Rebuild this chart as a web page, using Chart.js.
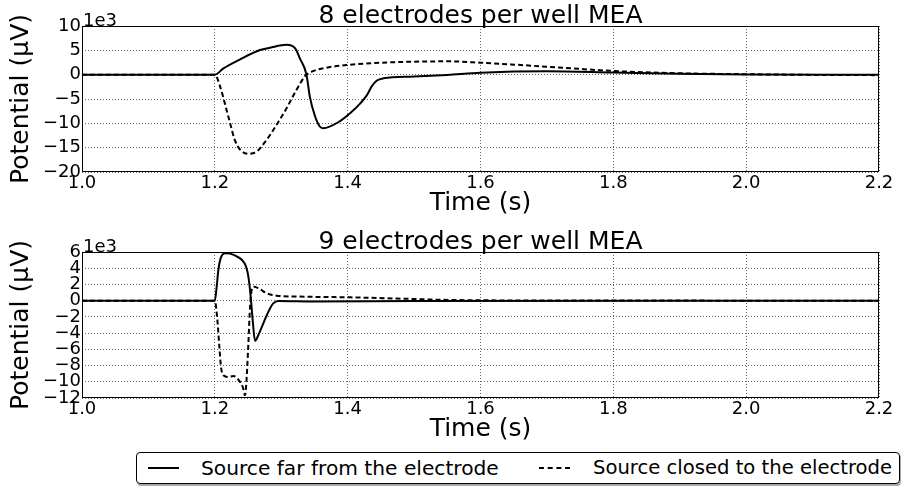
<!DOCTYPE html>
<html>
<head>
<meta charset="utf-8">
<script src="https://cdn.jsdelivr.net/npm/chart.js@4.4.1/dist/chart.umd.min.js"></script>
<style>
  html, body { margin: 0; padding: 0; background: #fff; }
  #wrap { position: relative; width: 904px; height: 486px; overflow: hidden; font-family: "DejaVu Sans", sans-serif; }
  #wrap canvas { position: absolute; left: 0; }
  #legend { position: absolute; left: 136px; top: 452px; width: 762px; height: 30px;
            border: 1px solid #000; border-radius: 4px; box-shadow: 1px 2px 0 rgba(0,0,0,0.35); }
  .lg-text { position: absolute; top: 456px; font-size: 20px; line-height: 24px; color: #000; white-space: nowrap; }
</style>
</head>
<body>
<div id="wrap">
  <canvas id="top" width="904" height="220" style="top:0"></canvas>
  <canvas id="bottom" width="904" height="220" style="top:226px"></canvas>
  <div id="legend"></div>
  <div style="position:absolute;left:148px;top:467px;width:31px;height:2px;background:#000"></div>
  <div class="lg-text" style="left:201px;font-size:20.2px">Source far from the electrode</div>
  <svg style="position:absolute;left:539px;top:466px" width="32" height="4">
    <line x1="0" y1="2" x2="31" y2="2" stroke="#000" stroke-width="2" stroke-dasharray="5 3.7"/>
  </svg>
  <div class="lg-text" style="left:593px;font-size:19.6px">Source closed to the electrode</div>
</div>
<script>
// Values are in units of 1e3 µV.
// Panel 1: 8 electrodes per well
const farTime8 = [1.0, 1.2, 1.213, 1.238, 1.268, 1.283, 1.308, 1.321, 1.328, 1.338, 1.343, 1.351, 1.358, 1.363,
                  1.388, 1.404, 1.419, 1.429, 1.436, 1.444, 1.454, 1.5, 1.55, 1.6, 1.7, 1.8, 1.9, 2.0, 2.2];
const farVal8  = [0, 0, 1.3, 3.15, 5.06, 5.54, 6.15, 5.4, 3.35, 0, -4.5, -8.6, -10.65, -11.0,
                  -9.6, -7.9, -5.9, -4.2, -2.45, -1.2, -0.75, -0.4, -0.05, 0.4, 0.7, 0.45, 0.2, 0.05, 0];
const closeTime8 = [1.0, 1.2, 1.208, 1.215, 1.223, 1.23, 1.238, 1.25, 1.263, 1.278, 1.293, 1.308, 1.323, 1.336,
                    1.346, 1.363, 1.4, 1.45, 1.5, 1.55, 1.6, 1.7, 1.8, 1.9, 2.0, 2.1, 2.2];
const closeVal8  = [0, 0, -2.45, -5.87, -9.97, -13.4, -15.4, -16.25, -15.8, -13.4, -10.3, -6.9, -3.1, -0.27,
                    0.62, 1.3, 2.0, 2.46, 2.67, 2.74, 2.46, 1.64, 0.76, 0.28, 0.1, -0.05, -0.1];

// Panel 2: 9 electrodes per well
const farTime9 = [1.0, 1.2, 1.2028, 1.2053, 1.2088, 1.2153, 1.2229, 1.233, 1.2405, 1.247, 1.2505, 1.254, 1.257,
                  1.2605, 1.2655, 1.273, 1.2806, 1.288, 1.296, 1.35, 1.5, 2.2];
const farVal9  = [0, 0, 1.73, 3.8, 5.24, 5.85, 5.8, 5.45, 5.04, 4.2, 2.97, 0.5, -2.39,
                  -4.95, -4.25, -2.8, -1.36, -0.33, -0.04, -0.1, -0.05, 0];
const closeTime9 = [1.0, 1.2, 1.2038, 1.2068, 1.2093, 1.2128, 1.2204, 1.2279, 1.2354, 1.242, 1.2455, 1.248, 1.2505,
                    1.253, 1.2555, 1.259, 1.268, 1.278, 1.293, 1.328, 1.404, 1.479, 1.554, 1.65, 2.2];
const closeVal9  = [0, 0, -2.39, -5.69, -8.17, -9.2, -9.4, -9.28, -9.73, -10.64, -11.67, -9.4, -5.28,
                    -0.74, 1.32, 1.73, 1.41, 0.91, 0.62, 0.5, 0.41, 0.25, 0.09, 0.03, 0];

const timeTicks = { min: 1.0, max: 2.2, step: 0.2 };
const yTicks8 = { min: -20, max: 10, step: 5 };
const yTicks9 = { min: -12, max: 6, step: 2 };

Chart.defaults.font.family = '"DejaVu Sans", sans-serif';
Chart.defaults.color = '#000';

// matplotlib-style full frame plus the "1e3" offset label above the y axis
const framePlugin = {
  id: 'frame',
  afterDatasetsDraw(chart) {
    const { ctx, chartArea: a } = chart;
    ctx.save();
    ctx.strokeStyle = '#000';
    ctx.lineWidth = 1;
    ctx.strokeRect(Math.round(a.left) + 0.5, Math.round(a.top) + 0.5,
                   Math.round(a.width) - 1, Math.round(a.height) - 1);
    ctx.font = '18px "DejaVu Sans", sans-serif';
    ctx.fillStyle = '#000';
    ctx.textAlign = 'left';
    ctx.textBaseline = 'alphabetic';
    ctx.fillText('1e3', a.left + 1, a.top - 0.5);
    ctx.restore();
  }
};

function pts(xs, ys) {
  return xs.map(function (x, i) { return { x: x, y: ys[i] }; });
}

function minus(v) {
  return v < 0 ? '\u2212' + Math.abs(v) : String(v);
}

function panel(id, title, farT, farV, closeT, closeV, yt) {
  const grid = { color: 'rgba(0,0,0,0.6)', lineWidth: 1, drawTicks: false };
  const border = { display: false, dash: [1, 2] };
  return new Chart(document.getElementById(id), {
    type: 'line',
    data: {
      datasets: [
        { label: 'Source far from the electrode', data: pts(farT, farV), borderColor: '#000', borderWidth: 2,
          pointRadius: 0, fill: false, cubicInterpolationMode: 'monotone' },
        { label: 'Source closed to the electrode', data: pts(closeT, closeV), borderColor: '#000', borderWidth: 2,
          borderDash: [5, 3], pointRadius: 0, fill: false, cubicInterpolationMode: 'monotone' }
      ]
    },
    options: {
      responsive: false, animation: false, events: [],
      layout: { padding: { left: 0, right: 25, top: 0, bottom: 0 } },
      plugins: {
        legend: { display: false },
        tooltip: { enabled: false },
        title: { display: true, fullSize: false, text: title, color: '#000',
                 font: { size: 25, weight: 'normal', lineHeight: 1 }, padding: { top: 4, bottom: -3 } }
      },
      scales: {
        x: {
          type: 'linear', min: timeTicks.min, max: timeTicks.max,
          ticks: { stepSize: timeTicks.step, font: { size: 18 }, padding: 1, maxRotation: 0, autoSkip: false,
                   callback: function (v) { return Number(v).toFixed(1); } },
          grid: grid, border: border,
          title: { display: true, text: 'Time (s)', font: { size: 25, lineHeight: 1 }, padding: { top: 0, bottom: 4 } },
          afterFit: function (s) { s.height = 48; }
        },
        y: {
          min: yt.min, max: yt.max,
          ticks: { stepSize: yt.step, font: { size: 18 }, padding: 1, autoSkip: false, callback: minus },
          grid: grid, border: border,
          title: { display: true, text: 'Potential (\u03bcV)', font: { size: 25, lineHeight: 1 }, padding: { top: 9, bottom: 0 } },
          afterFit: function (s) { s.width = 82; }
        }
      }
    },
    plugins: [framePlugin]
  });
}

panel('top', '8 electrodes per well MEA', farTime8, farVal8, closeTime8, closeVal8, yTicks8);
panel('bottom', '9 electrodes per well MEA', farTime9, farVal9, closeTime9, closeVal9, yTicks9);
</script>
</body>
</html>
